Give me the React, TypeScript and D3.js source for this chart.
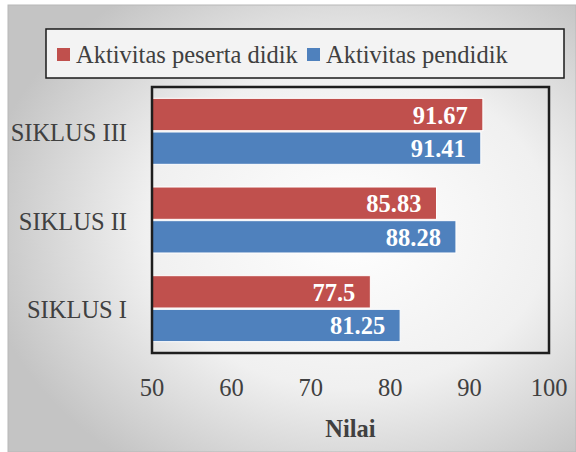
import React from "react";
import * as d3 from "d3";

const categories = ["SIKLUS III", "SIKLUS II", "SIKLUS I"];
const seriesNames = ["Aktivitas peserta didik", "Aktivitas pendidik"];
const pesertaDidik = [91.67, 85.83, 77.5];
const pendidik = [91.41, 88.28, 81.25];
const xTicks = [50, 60, 70, 80, 90, 100];
const colors = ["#C0504D", "#4F81BD"];
const axisTitle = "Nilai";

const FONT = "'Liberation Serif','Times New Roman',serif";
const FS = 24.5;

export default function App() {
  const W = 576, H = 452;
  const plot = { x0: 152, x1: 549, y0: 87, y1: 353 };
  const x = d3.scaleLinear().domain([50, 100]).range([plot.x0, plot.x1]);
  const y = d3.scaleBand<string>().domain(categories).range([plot.y0, plot.y1]).paddingInner(0.256).paddingOuter(0.128);
  const sub = d3.scaleBand<string>().domain(seriesNames).range([0, y.bandwidth()]).paddingInner(0.04);
  const series = [pesertaDidik, pendidik];

  return (
    <svg width={W} height={H} style={{ position: "absolute", left: 0, top: 0 }} fontFamily={FONT}>
      <defs>
        <radialGradient id="bg" cx="60%" cy="50%" r="65%">
          <stop offset="0%" stopColor="#ffffff" />
          <stop offset="55%" stopColor="#f0f0f0" />
          <stop offset="100%" stopColor="#c4c4c4" />
        </radialGradient>
      </defs>
      <rect x={0} y={0} width={W} height={H} fill="#ffffff" />
      <rect x={8} y={5} width={W - 8} height={H - 5} fill="url(#bg)" stroke="#b8b8b8" strokeWidth={1} />

      {/* legend */}
      <rect x={46} y={29} width={518} height={49} fill="#f3f3f3" stroke="#1a1a1a" strokeWidth={1.5} />
      {seriesNames.map((s, i) => {
        const lx = i === 0 ? 57 : 307;
        return (
          <g key={s}>
            <rect x={lx} y={48} width={13} height={13} fill={colors[i]} />
            <text x={lx + 19} y={63} fontSize={FS} fill="#404040">{s}</text>
          </g>
        );
      })}

      {/* bars */}
      {categories.map((c, ci) => (
        <g key={c}>
          {series.map((vals, si) => {
            const v = vals[ci];
            const by = (y(c) as number) + (sub(seriesNames[si]) as number);
            const bh = sub.bandwidth();
            return (
              <g key={si}>
                <rect x={x(50)} y={by} width={x(v) - x(50)} height={bh} fill={colors[si]} stroke="#ffffff" strokeWidth={1} />
                <text x={x(v) - 15} y={by + bh / 2 + 9} textAnchor="end" fontSize={FS} fontWeight="bold" fill="#ffffff">{String(v)}</text>
              </g>
            );
          })}
          <text x={127} y={(y(c) as number) + y.bandwidth() / 2 + 9.5} textAnchor="end" fontSize={FS} fill="#404040">{c}</text>
        </g>
      ))}

      {/* plot border */}
      <rect x={plot.x0} y={plot.y0} width={plot.x1 - plot.x0} height={plot.y1 - plot.y0} fill="none" stroke="#1e1e1e" strokeWidth={2.5} />

      {/* x tick labels */}
      {xTicks.map(t => (
        <text key={t} x={x(t)} y={396} textAnchor="middle" fontSize={FS} fill="#404040">{t}</text>
      ))}
      <text x={(plot.x0 + plot.x1) / 2} y={437} textAnchor="middle" fontSize={FS} fontWeight="bold" fill="#404040">{axisTitle}</text>
    </svg>
  );
}
